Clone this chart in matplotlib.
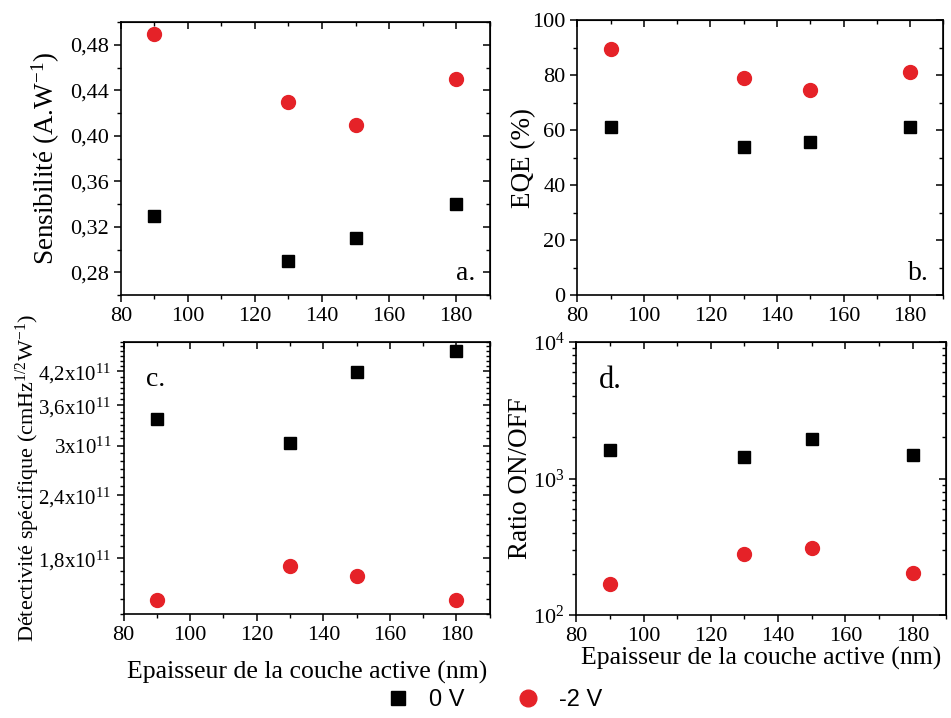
import numpy as np
import matplotlib.pyplot as plt
from matplotlib.ticker import MultipleLocator, FixedLocator, FuncFormatter, LogLocator, NullFormatter
from matplotlib.lines import Line2D

plt.rcParams['font.family'] = 'Liberation Serif'
plt.rcParams['mathtext.fontset'] = 'custom'
plt.rcParams['mathtext.rm'] = 'Liberation Serif'
plt.rcParams['mathtext.it'] = 'Liberation Serif:italic'

# thickness of active layer (nm)
thickness = [90, 130, 150, 180]

sens_0V = [0.33, 0.29, 0.31, 0.34]
sens_2V = [0.49, 0.43, 0.41, 0.45]

eqe_0V = [61.3, 53.7, 55.8, 61.1]
eqe_2V = [89.5, 78.8, 74.5, 81.2]

det_0V = [3.39e11, 3.04e11, 4.18e11, 4.60e11]
det_2V = [1.49e11, 1.74e11, 1.66e11, 1.49e11]

ratio_0V = [1630, 1430, 1960, 1500]
ratio_2V = [169, 280, 309, 203]

det_ticks = [1.8e11, 2.4e11, 3.0e11, 3.6e11, 4.2e11]
det_ticklabels = ['1,8x10$^{11}$', '2,4x10$^{11}$', '3x10$^{11}$', '3,6x10$^{11}$', '4,2x10$^{11}$']

red = '#e52228'
xlabel = 'Epaisseur de la couche active (nm)'

fig = plt.figure(figsize=(9.51, 7.18), dpi=100)

def setup(ax):
    ax.set_xlim(80, 190)
    ax.xaxis.set_major_locator(MultipleLocator(20))
    ax.xaxis.set_minor_locator(MultipleLocator(10))
    ax.tick_params(which='major', direction='out', length=5, width=1.1, labelsize=16)
    ax.tick_params(which='minor', direction='out', length=3, width=1.0)
    for s in ax.spines.values():
        s.set_linewidth(1.2)
    # mirrored ticks pointing inward on top/right
    top = ax.secondary_xaxis('top')
    top.xaxis.set_major_locator(MultipleLocator(20))
    top.xaxis.set_minor_locator(MultipleLocator(10))
    top.tick_params(which='both', direction='in', labeltop=False)
    top.tick_params(which='major', length=5, width=1.1)
    top.tick_params(which='minor', length=3, width=1.0)
    right = ax.secondary_yaxis('right')
    right.tick_params(which='both', direction='in', labelright=False)
    right.tick_params(which='major', length=5, width=1.1)
    right.tick_params(which='minor', length=3, width=1.0)
    return right

def points(ax, y0, y2):
    ax.plot(thickness, y0, 's', color='black', ms=9, ls='none')
    ax.plot(thickness, y2, 'o', color=red, ms=10, ls='none')

comma = FuncFormatter(lambda v, p: ('%.2f' % v).replace('.', ','))

# a. sensibilite
ax_a = fig.add_axes([0.127, 0.589, 0.388, 0.380])
points(ax_a, sens_0V, sens_2V)
ax_a.set_ylim(0.26, 0.50)
r = setup(ax_a)
ax_a.yaxis.set_major_locator(FixedLocator([0.28, 0.32, 0.36, 0.40, 0.44, 0.48]))
ax_a.yaxis.set_minor_locator(MultipleLocator(0.02))
ax_a.yaxis.set_major_formatter(comma)
r.yaxis.set_major_locator(FixedLocator([0.28, 0.32, 0.36, 0.40, 0.44, 0.48]))
r.yaxis.set_minor_locator(MultipleLocator(0.02))
ax_a.set_ylabel('Sensibilité (A.W$^{-1}$)', fontsize=19.5)
ax_a.yaxis.set_label_coords(-0.160, 0.5)
ax_a.text(0.96, 0.08, 'a.', transform=ax_a.transAxes, fontsize=20, ha='right', va='center')

# b. EQE
ax_b = fig.add_axes([0.607, 0.589, 0.385, 0.383])
points(ax_b, eqe_0V, eqe_2V)
ax_b.set_ylim(0, 100)
r = setup(ax_b)
ax_b.yaxis.set_major_locator(MultipleLocator(20))
ax_b.yaxis.set_minor_locator(MultipleLocator(10))
r.yaxis.set_major_locator(MultipleLocator(20))
r.yaxis.set_minor_locator(MultipleLocator(10))
ax_b.set_ylabel('EQE (%)', fontsize=19.5)
ax_b.yaxis.set_label_coords(-0.112, 0.5)
ax_b.text(0.96, 0.08, 'b.', transform=ax_b.transAxes, fontsize=20, ha='right', va='center')

# c. detectivite
ax_c = fig.add_axes([0.130, 0.145, 0.385, 0.379])
points(ax_c, det_0V, det_2V)
ax_c.set_yscale('log')
ax_c.set_ylim(1.4e11, 4.8e11)
r = setup(ax_c)
minor_c = np.arange(1.4e11, 4.85e11, 0.1e11)
ax_c.set_yticks(det_ticks, det_ticklabels)
ax_c.yaxis.set_minor_locator(FixedLocator(minor_c))
ax_c.yaxis.set_minor_formatter(NullFormatter())
ax_c.tick_params(axis='y', labelsize=15)
r.yaxis.set_major_locator(FixedLocator(det_ticks))
r.yaxis.set_minor_locator(FixedLocator(minor_c))
r.yaxis.set_minor_formatter(NullFormatter())
ax_c.set_ylabel('Détectivité spécifique (cmHz$^{1/2}$W$^{-1}$)', fontsize=16)
ax_c.yaxis.set_label_coords(-0.222, 0.5)
ax_c.set_xlabel(xlabel, fontsize=18.5, labelpad=12)
ax_c.text(0.06, 0.86, 'c.', transform=ax_c.transAxes, fontsize=20, ha='left', va='center')

# d. ratio ON/OFF
ax_d = fig.add_axes([0.606, 0.1435, 0.389, 0.380])
points(ax_d, ratio_0V, ratio_2V)
ax_d.set_yscale('log')
ax_d.set_ylim(1e2, 1e4)
r = setup(ax_d)
ax_d.yaxis.set_minor_locator(LogLocator(subs=np.arange(2, 10)))
ax_d.yaxis.set_minor_formatter(NullFormatter())
r.yaxis.set_minor_locator(LogLocator(subs=np.arange(2, 10)))
r.yaxis.set_minor_formatter(NullFormatter())
ax_d.set_ylabel('Ratio ON/OFF', fontsize=19.5)
ax_d.yaxis.set_label_coords(-0.116, 0.5)
ax_d.set_xlabel(xlabel, fontsize=18.5, labelpad=1)
ax_d.text(0.06, 0.86, 'd.', transform=ax_d.transAxes, fontsize=22, ha='left', va='center')

handles = [Line2D([], [], marker='s', color='black', ms=10, ls='none'),
           Line2D([], [], marker='o', color=red, ms=12, ls='none')]
fig.legend(handles, ['0 V', '-2 V'], loc='center', bbox_to_anchor=(0.52, 0.025), ncol=2,
           frameon=False, prop={'family': 'Liberation Sans', 'size': 17},
           handletextpad=0.8, columnspacing=2.2, handlelength=1.0)

fig.savefig('out.png', dpi=100)
